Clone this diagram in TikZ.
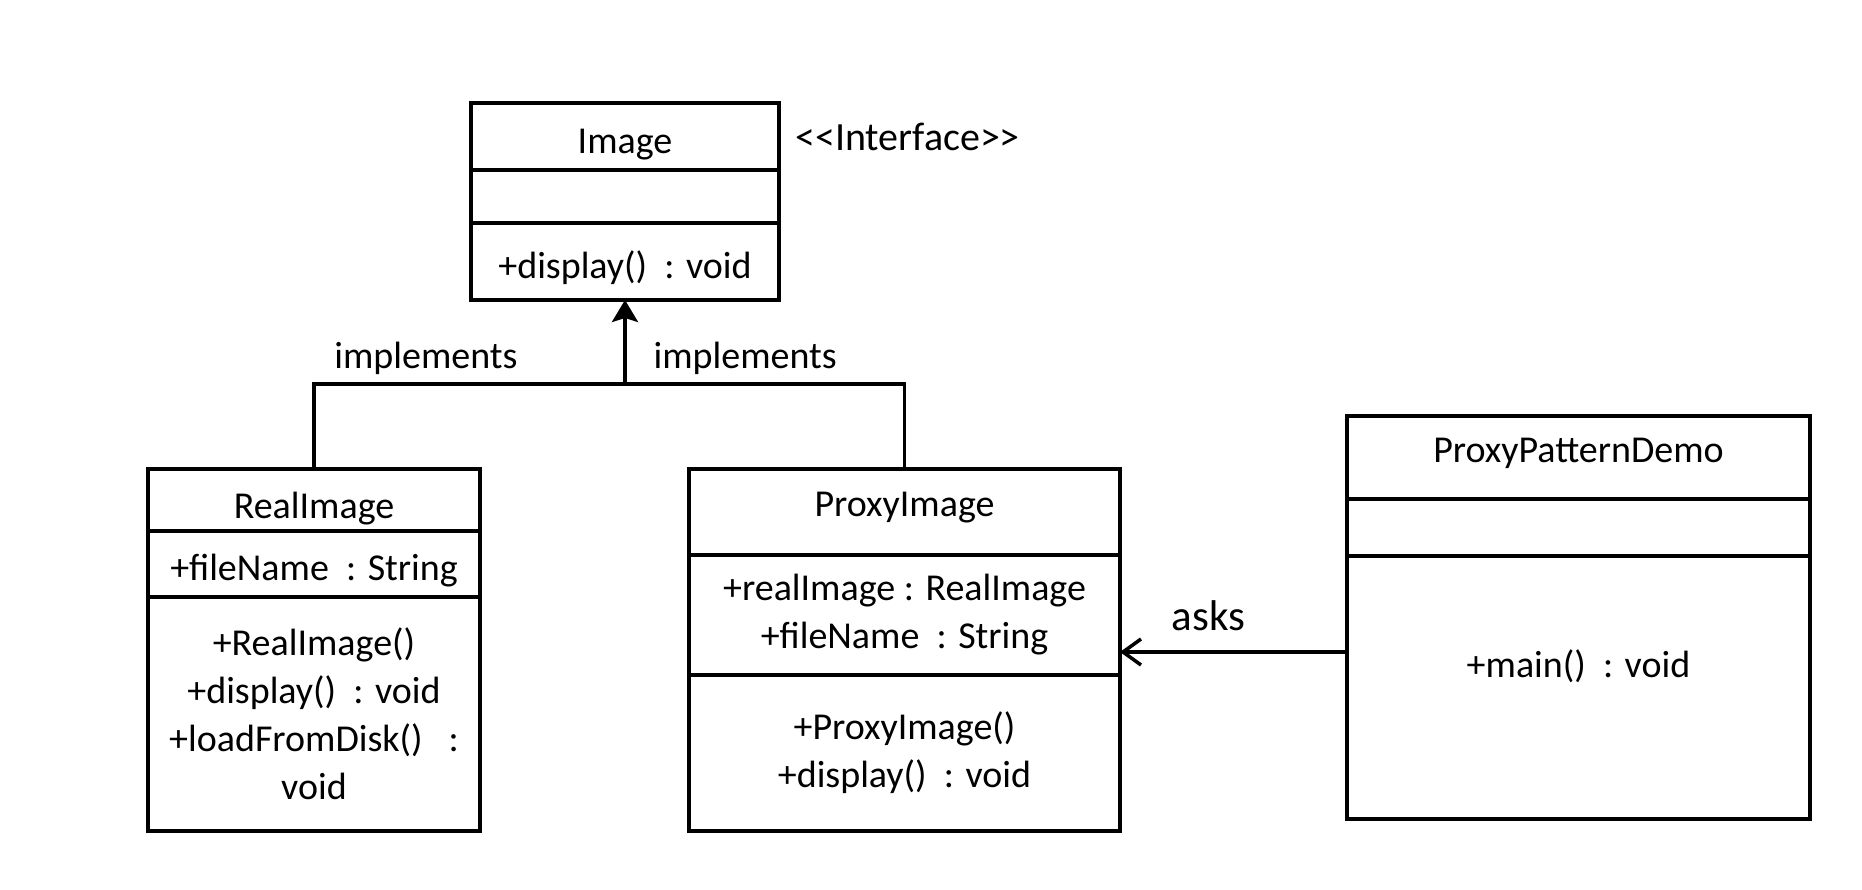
\documentclass[tikz,border=0pt]{standalone}
\usepackage{fontspec}
\setmainfont{Carlito}
\usetikzlibrary{arrows.meta,positioning}
\tikzstyle{classpart} = [
  draw,
  rectangle,
  line width=3.5pt,
  outer sep=0pt,
  inner sep=4pt,
  align=center,
]
\tikzstyle{relation} = [
  line width=3.5pt,
]
\tikzstyle{tag} = [
  inner sep=2pt,
]

\begin{document}
\begin{tikzpicture}[
    auto,
    x=1pt,
    y=1pt,
    font=\fontsize{38}{48}\selectfont,
  ]
  \useasboundingbox (0,0) rectangle (1862,-890);
  % interface
  \node[
    classpart,
    minimum width=308pt,
    minimum height=67pt,
    text height=40pt,
    anchor=north,
  ](image) at (625,-103) {Image};
  \node[
    classpart,
    minimum width=308pt,
    minimum height=53pt,
    below=0pt of image,
  ](imageattr){};
  \node[
    classpart,
    minimum width=308pt,
    minimum height=77pt,
    text height=40pt,
    below=0pt of imageattr,
  ](imageops){+display() ~: void};
  \node[
    tag,
    font=\fontsize{40}{48}\selectfont,
    right=14pt of image,
  ](stereo){<{}<Interface>{}>};
  % real subject
  \node[
    classpart,
    minimum width=332pt,
    minimum height=62pt,
    text height=43pt,
    anchor=north,
  ](real) at (314,-469) {RealImage};
  \node[
    classpart,
    minimum width=332pt,
    minimum height=66pt,
    text height=40pt,
    below=0pt of real,
  ](realattr){+fileName ~: String};
  \node[
    classpart,
    minimum width=332pt,
    minimum height=234pt,
    below=0pt of realattr,
  ](realops){+RealImage()\\+display() ~: void\\+loadFromDisk() ~~:\\void};
  % proxy
  \node[
    classpart,
    minimum width=431pt,
    minimum height=86pt,
    text depth=16pt,
    anchor=north,
  ](proxy) at (904.5,-469) {ProxyImage};
  \node[
    classpart,
    minimum width=431pt,
    minimum height=120pt,
    below=0pt of proxy,
  ](proxyattr){+realImage : RealImage\\+fileName ~: String};
  \node[
    classpart,
    minimum width=431pt,
    minimum height=156pt,
    below=0pt of proxyattr,
  ](proxyops){+ProxyImage()\\+display() ~: void};
  % client
  \node[
    classpart,
    minimum width=463pt,
    minimum height=83pt,
    text depth=15pt,
    anchor=north,
  ](demo) at (1578.5,-416) {ProxyPatternDemo};
  \node[
    classpart,
    minimum width=463pt,
    minimum height=57pt,
    below=0pt of demo,
  ](demoattr){};
  \node[
    classpart,
    minimum width=463pt,
    minimum height=263pt,
    text depth=48pt,
    below=0pt of demoattr,
  ](demoops){+main() ~: void};
  % connectors
  \coordinate (fork) at (imageops.south |- 0,-384);
  \coordinate (askfrom) at ([yshift=35.5pt]demoops.west);
  \coordinate (askto) at (askfrom -| proxyattr.east);
  \draw [relation] (real.north) |- node[tag, pos=0.68, above=6pt] {implements} (fork);
  \draw [relation] (proxy.north) |- node[tag, pos=0.785, above=6pt] {implements} (fork);
  \draw [relation, -{Stealth[length=22pt,width=26pt,inset=4pt]}] (fork) -- (imageops.south);
  \path [relation, -{Straight Barb[length=18pt,width=26pt]}] (askfrom) edge node[swap, pos=0.61, yshift=16pt, font=\fontsize{43}{50}\selectfont] {asks} (askto);
\end{tikzpicture}
\end{document}
